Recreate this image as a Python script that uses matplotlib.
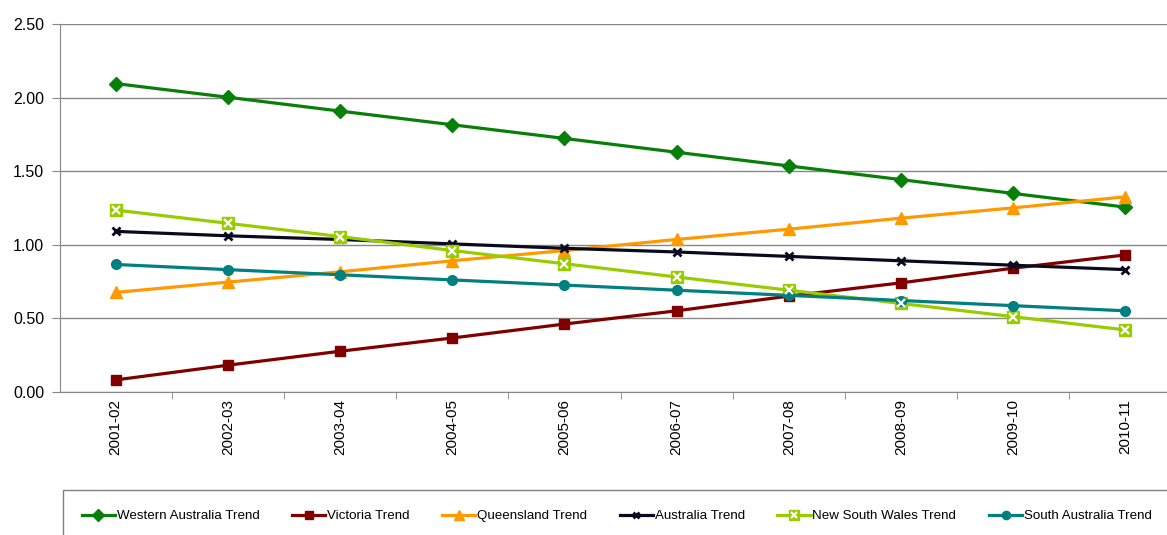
import matplotlib
matplotlib.use("Agg")
import matplotlib.pyplot as plt
from matplotlib.patches import Rectangle
from matplotlib.legend_handler import HandlerTuple

plt.rcParams['font.family'] = ['Liberation Sans', 'DejaVu Sans']

years = ['2001-02', '2002-03', '2003-04', '2004-05', '2005-06',
         '2006-07', '2007-08', '2008-09', '2009-10', '2010-11']

wa_trend = [2.095, 2.002, 1.908, 1.815, 1.722, 1.628, 1.535, 1.442, 1.348, 1.255]
vic_trend = [0.08, 0.18, 0.275, 0.365, 0.46, 0.55, 0.65, 0.74, 0.84, 0.93]
qld_trend = [0.675, 0.745, 0.815, 0.89, 0.96, 1.035, 1.105, 1.18, 1.25, 1.325]
aus_trend = [1.09, 1.06, 1.035, 1.005, 0.975, 0.95, 0.92, 0.89, 0.86, 0.83]
nsw_trend = [1.235, 1.145, 1.055, 0.96, 0.87, 0.78, 0.69, 0.60, 0.51, 0.42]
sa_trend = [0.865, 0.83, 0.795, 0.76, 0.725, 0.69, 0.655, 0.62, 0.585, 0.55]

W, H = 1167, 535
fig = plt.figure(figsize=(W / 100, H / 100), dpi=100)
# plot area runs a little past the right edge of the figure
ax = fig.add_axes([59.5 / W, 143.3 / H, 1122 / W, 367.7 / H])

x = list(range(len(years)))
lw = 2.3

wa, = ax.plot(x, wa_trend, color='#087f08', lw=lw, marker='D', ms=7,
              label='Western Australia Trend', zorder=3)
vic, = ax.plot(x, vic_trend, color='#800000', lw=lw, marker='s', ms=7,
               label='Victoria Trend', zorder=3)
qld, = ax.plot(x, qld_trend, color='#ff9900', lw=lw, marker='^', ms=8,
               label='Queensland Trend', zorder=3)
aus, = ax.plot(x, aus_trend, color='#0a0a1e', lw=lw, marker='x', ms=5.5,
               mew=2, label='Australia Trend', zorder=3)
nsw, = ax.plot(x, nsw_trend, color='#99cc00', lw=lw, marker='s', ms=9,
               label='New South Wales Trend', zorder=3)
nsw_x, = ax.plot(x, nsw_trend, color='white', lw=0, marker='x', ms=5.5,
                 mew=1.6, zorder=4)
sa, = ax.plot(x, sa_trend, color='#008080', lw=lw, marker='o', ms=7,
              label='South Australia Trend', zorder=3)

ax.set_xlim(-0.5, len(years) - 0.5)
ax.set_ylim(0, 2.5)
ax.set_yticks([0, 0.5, 1.0, 1.5, 2.0, 2.5])
ax.set_yticklabels(['%.2f' % v for v in [0, 0.5, 1.0, 1.5, 2.0, 2.5]])
ax.yaxis.grid(True, color='#878787', lw=1)
ax.set_axisbelow(True)

ax.set_xticks(x)
ax.set_xticklabels(years, rotation=90, va='top')
ax.set_xticks([i + 0.5 for i in range(len(years))], minor=True)
ax.tick_params(axis='x', which='major', length=0, pad=5, labelsize=11)
ax.tick_params(axis='x', which='minor', length=5, color='#878787')
ax.tick_params(axis='y', length=6, color='#878787', labelsize=11.5, pad=5)

for side in ['top', 'right']:
    ax.spines[side].set_visible(False)
for side in ['left', 'bottom']:
    ax.spines[side].set_color('#878787')

# legend box, open at the right and bottom
fig.patches.append(Rectangle((63 / W, -0.1), 1.2, (535 - 489.5) / H + 0.1,
                             transform=fig.transFigure, fill=False,
                             edgecolor='#808080', lw=1))

handles = [wa, vic, qld, aus, (nsw, nsw_x), sa]
names = [h.get_label() for h in [wa, vic, qld, aus, nsw, sa]]
fig.legend(handles, names, ncol=6, loc='center left',
           bbox_to_anchor=(75 / W, 19 / H), frameon=False, fontsize=9.6,
           borderpad=0, handlelength=2.5, handletextpad=0.12,
           columnspacing=2.45, markerscale=0.85,
           handler_map={tuple: HandlerTuple(ndivide=1)})

fig.savefig('out.png', dpi=100)
